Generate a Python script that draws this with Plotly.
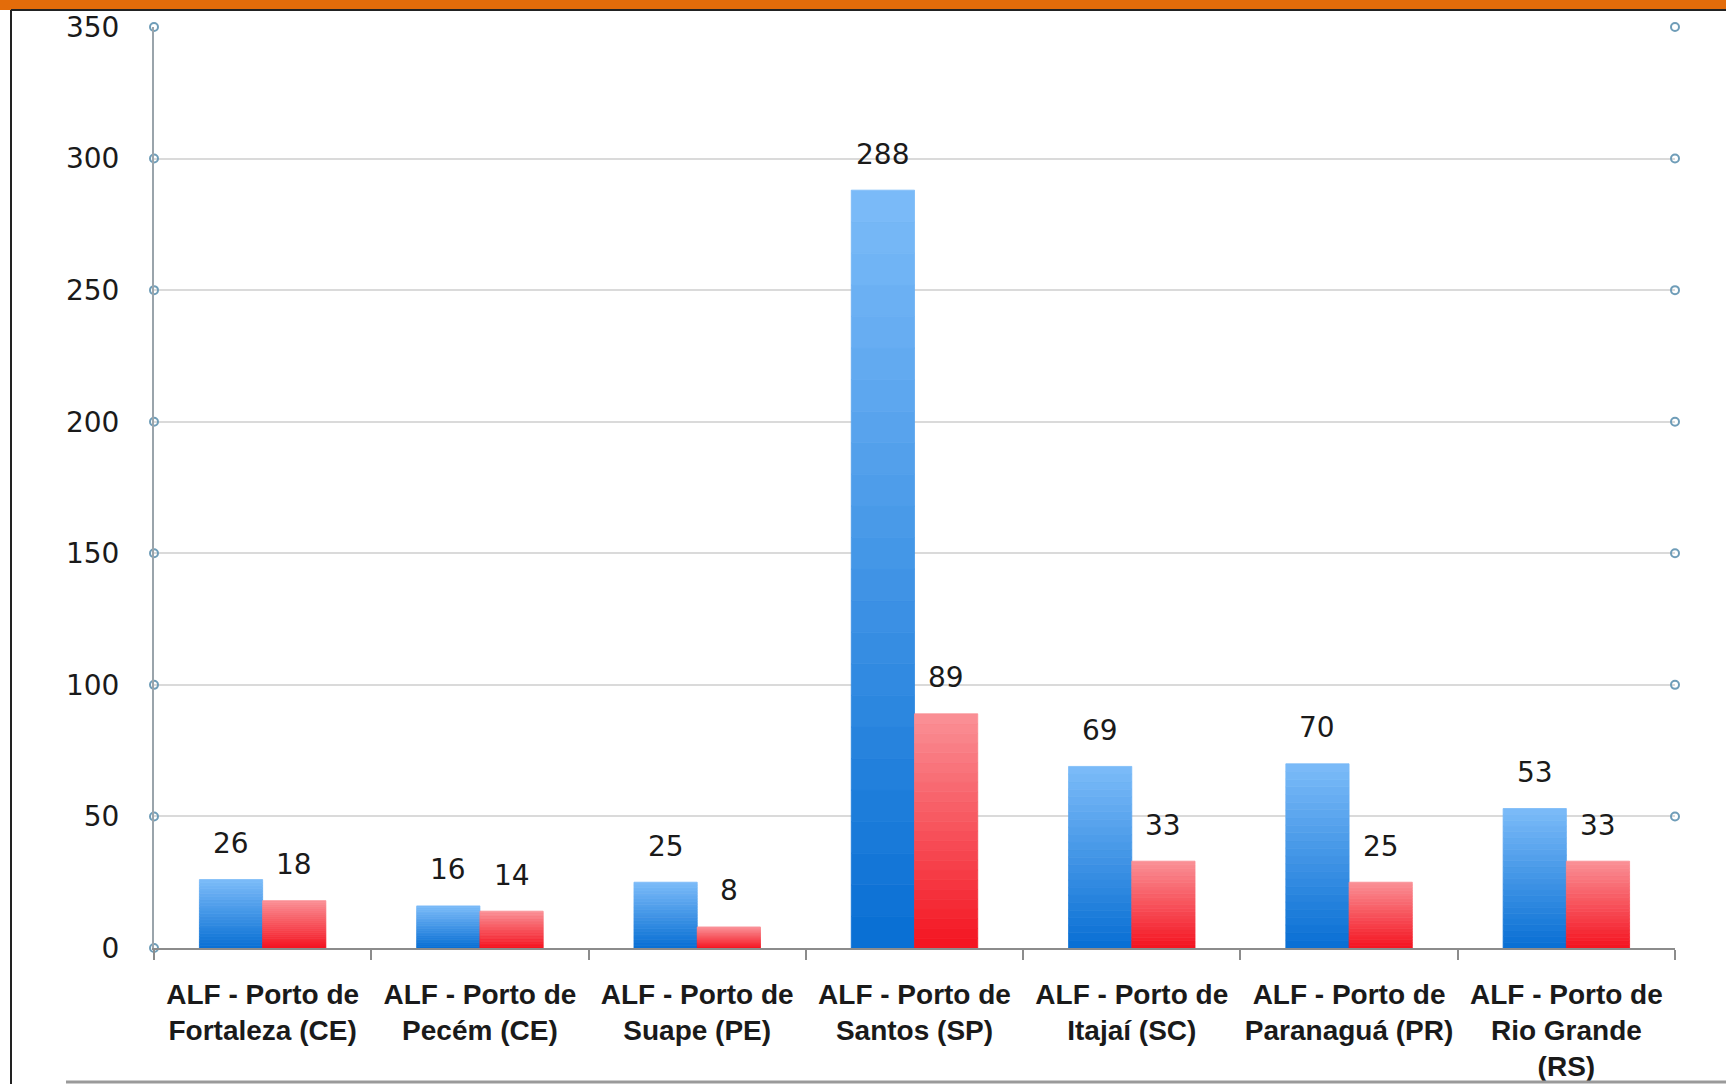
import plotly.graph_objects as go

categories = [
    "ALF - Porto de<br>Fortaleza (CE)",
    "ALF - Porto de<br>Pecém (CE)",
    "ALF - Porto de<br>Suape (PE)",
    "ALF - Porto de<br>Santos (SP)",
    "ALF - Porto de<br>Itajaí (SC)",
    "ALF - Porto de<br>Paranaguá (PR)",
    "ALF - Porto de<br>Rio Grande<br>(RS)",
]
serie_azul = [26, 16, 25, 288, 69, 70, 53]
serie_vermelha = [18, 14, 8, 89, 33, 25, 33]
y_ticks = [0, 50, 100, 150, 200, 250, 300, 350]

W, H = 1726, 1084
ML, MR, MT, MB = 154, 51, 27, 136
BARGAP = 0.418
N_SEG = 24


def lerp(c1, c2, t):
    return "rgb({},{},{})".format(*[round(a + (b - a) * t) for a, b in zip(c1, c2)])


fig = go.Figure()


def add_gradient(values, group, bottom, top, name):
    for k in range(N_SEG):
        t = k / (N_SEG - 1)
        col = lerp(bottom, top, t)
        fig.add_trace(go.Bar(
            x=categories,
            y=[v / N_SEG for v in values],
            base=[v * k / N_SEG for v in values],
            offsetgroup=group,
            marker=dict(color=col, line=dict(width=0.8, color=col)),
            name=name,
            showlegend=False,
            hoverinfo="skip",
        ))


add_gradient(serie_azul, "a", (10, 112, 212), (122, 186, 248), "Série 1")
add_gradient(serie_vermelha, "b", (244, 22, 34), (250, 142, 148), "Série 2")

# axis circle markers
fig.add_trace(go.Scatter(
    x=[0] * len(y_ticks) + [1] * (len(y_ticks) - 1),
    y=y_ticks + y_ticks[1:],
    xaxis="x2", yaxis="y",
    mode="markers",
    marker=dict(symbol="circle-open", size=8, color="#6f9db8", line=dict(width=2)),
    showlegend=False, hoverinfo="skip", cliponaxis=False,
))

plot_w = W - ML - MR
cat_px = plot_w / len(categories)
bar_px = cat_px * (1 - BARGAP) / 2
shift = bar_px / 2

for cat, vb, vr in zip(categories, serie_azul, serie_vermelha):
    for v, dx in ((vb, -shift), (vr, shift)):
        fig.add_annotation(
            x=cat, y=v, text=str(v), showarrow=False,
            xshift=dx, yshift=36, yanchor="middle",
            font=dict(family="DejaVu Sans", size=28, color="#1a1a1a"),
        )

plot_h = H - MT - MB


def px_x(p):
    return (p - ML) / plot_w


def px_y(p):
    return (H - MB - p) / plot_h


shapes = [
    dict(type="rect", xref="paper", yref="paper", x0=px_x(0), x1=px_x(W),
         y0=px_y(10), y1=px_y(0), fillcolor="#e36c0a", line=dict(width=0), layer="above"),
    dict(type="line", xref="paper", yref="paper", x0=px_x(11), x1=px_x(W),
         y0=px_y(10), y1=px_y(10), line=dict(color="#222222", width=2)),
    dict(type="line", xref="paper", yref="paper", x0=px_x(11), x1=px_x(11),
         y0=px_y(10), y1=px_y(H), line=dict(color="#222222", width=2)),
    dict(type="line", xref="paper", yref="paper", x0=px_x(66), x1=px_x(W),
         y0=px_y(1082), y1=px_y(1082), line=dict(color="#9a9a9a", width=3)),
]

fig.update_layout(
    width=W, height=H,
    margin=dict(l=ML, r=MR, t=MT, b=MB, autoexpand=False),
    paper_bgcolor="white", plot_bgcolor="white",
    barmode="group", bargap=BARGAP, bargroupgap=0,
    showlegend=False,
    shapes=shapes,
    xaxis=dict(
        type="category",
        automargin=False, tickangle=0,
        showline=True, linecolor="#8c8c8c", linewidth=2,
        ticks="outside", tickson="boundaries", ticklen=10, tickcolor="#8c8c8c", tickwidth=2,
        tickfont=dict(family="Liberation Sans", size=28, color="#1a1a1a", weight="bold"),
        ticklabelstandoff=20,
        showgrid=False,
    ),
    xaxis2=dict(overlaying="x", range=[0, 1], visible=False),
    yaxis=dict(
        automargin=False,
        range=[0, 350], tickvals=y_ticks,
        showline=True, linecolor="#9aa4ab", linewidth=2,
        showgrid=True, gridcolor="#dadada", gridwidth=2,
        zeroline=False,
        ticks="", ticklabelstandoff=27,
        tickfont=dict(family="DejaVu Sans", size=28, color="#1a1a1a"),
    ),
)

fig.write_html(
    "out.html",
    config={"displayModeBar": False},
    post_script="document.body.style.margin='0px';document.body.style.overflow='hidden';",
)
